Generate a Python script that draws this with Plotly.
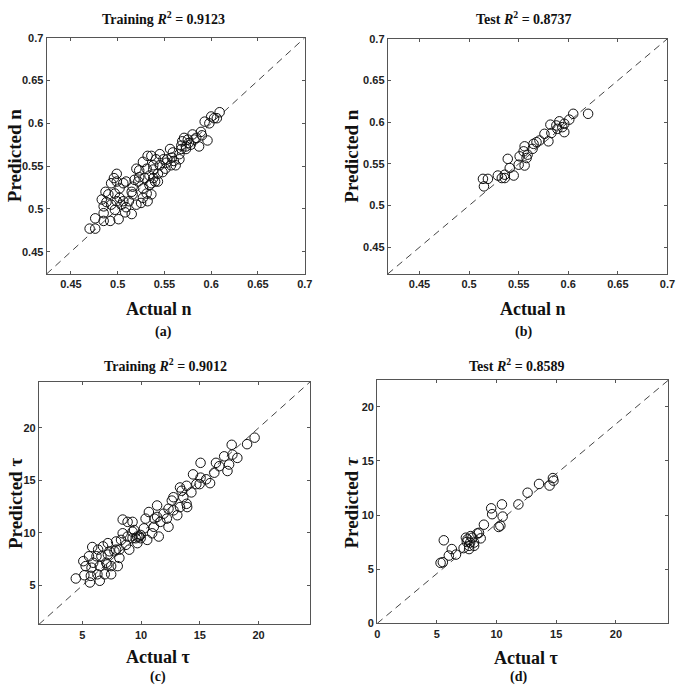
import plotly.graph_objects as go

W, H = 685, 693  # browser window and figure size

# ---------------- data ----------------
# (a) Training, flow index n
a_actual = [0.470, 0.476, 0.476, 0.485, 0.485, 0.492, 0.501, 0.483, 0.487, 0.493,
            0.497, 0.499, 0.497, 0.508, 0.504, 0.499, 0.502, 0.509, 0.512, 0.520,
            0.516, 0.516, 0.522, 0.527, 0.527, 0.531, 0.529, 0.523, 0.518, 0.520,
            0.532, 0.536, 0.541, 0.538, 0.534, 0.538, 0.540, 0.534, 0.548, 0.545,
            0.545, 0.549, 0.553, 0.551, 0.556, 0.559, 0.560, 0.557, 0.562, 0.566,
            0.568, 0.569, 0.573, 0.575, 0.578, 0.580, 0.584, 0.587, 0.589, 0.596,
            0.593, 0.598, 0.600, 0.603, 0.606, 0.609, 0.571, 0.566, 0.558, 0.573,
            0.490, 0.488, 0.496, 0.502, 0.506, 0.493, 0.485, 0.515, 0.525, 0.532,
            0.536, 0.531, 0.543, 0.552, 0.527, 0.523, 0.543, 0.509, 0.506, 0.515,
            0.582, 0.576, 0.590, 0.568, 0.538, 0.536, 0.499]
a_pred = [0.477, 0.477, 0.489, 0.486, 0.495, 0.486, 0.488, 0.511, 0.520, 0.530,
          0.518, 0.509, 0.499, 0.496, 0.505, 0.532, 0.524, 0.502, 0.509, 0.505,
          0.517, 0.526, 0.532, 0.513, 0.524, 0.547, 0.536, 0.537, 0.534, 0.547,
          0.562, 0.562, 0.558, 0.551, 0.539, 0.536, 0.532, 0.528, 0.543, 0.551,
          0.564, 0.558, 0.558, 0.547, 0.570, 0.566, 0.556, 0.551, 0.551, 0.564,
          0.570, 0.579, 0.573, 0.581, 0.575, 0.587, 0.583, 0.573, 0.590, 0.580,
          0.602, 0.600, 0.608, 0.606, 0.606, 0.613, 0.583, 0.558, 0.560, 0.570,
          0.517, 0.508, 0.536, 0.513, 0.509, 0.505, 0.503, 0.494, 0.507, 0.509,
          0.517, 0.518, 0.541, 0.554, 0.555, 0.545, 0.532, 0.532, 0.530, 0.520,
          0.581, 0.577, 0.586, 0.574, 0.546, 0.530, 0.541]

# (b) Test, flow index n
b_actual = [0.514, 0.519, 0.515, 0.529, 0.533, 0.536, 0.536, 0.539, 0.541, 0.545,
            0.551, 0.550, 0.556, 0.556, 0.555, 0.558, 0.564, 0.565, 0.568, 0.571,
            0.576, 0.580, 0.583, 0.582, 0.589, 0.591, 0.594, 0.596, 0.601, 0.605,
            0.620, 0.596, 0.588, 0.559]
b_pred = [0.532, 0.532, 0.523, 0.536, 0.533, 0.533, 0.537, 0.556, 0.545, 0.536,
          0.559, 0.549, 0.548, 0.571, 0.565, 0.557, 0.568, 0.574, 0.576, 0.578,
          0.586, 0.577, 0.587, 0.597, 0.592, 0.601, 0.594, 0.588, 0.603, 0.610,
          0.610, 0.598, 0.596, 0.561]

# (c) Training, tau
c_actual = [4.44, 5.17, 5.08, 5.64, 5.72, 5.78, 5.56, 5.84, 5.92, 6.48,
            6.48, 6.62, 6.76, 7.03, 7.12, 7.17, 7.45, 6.90, 7.45, 7.17,
            7.87, 7.73, 8.15, 8.43, 8.43, 8.85, 8.99, 8.71, 9.27, 9.40,
            9.54, 9.68, 9.27, 9.96, 10.24, 10.38, 10.66, 10.94, 11.08, 11.13,
            11.36, 11.50, 11.64, 11.91, 12.33, 12.33, 12.61, 12.75, 13.08, 13.31,
            13.45, 13.59, 13.87, 13.92, 14.28, 14.42, 14.70, 15.06, 15.06, 15.54,
            15.87, 16.23, 16.37, 16.65, 17.07, 17.35, 17.49, 17.71, 17.77, 18.19,
            19.02, 19.66, 6.28, 8.01, 8.15, 7.87, 9.82, 10.52, 9.96, 12.19,
            12.75, 14.98, 13.87, 5.28, 6.20, 6.34, 7.31, 9.68, 9.27, 8.29,
            11.36, 13.31, 8.85]
c_pred = [5.63, 5.94, 7.28, 5.25, 5.88, 6.66, 7.75, 8.63, 7.13, 5.41,
          6.81, 7.75, 8.69, 7.13, 6.97, 7.91, 6.81, 6.03, 6.03, 9.00,
          9.16, 8.22, 7.59, 11.25, 9.94, 9.63, 8.38, 8.84, 11.03, 10.25,
          9.47, 9.00, 9.47, 9.78, 10.41, 11.34, 11.97, 9.94, 10.56, 11.34,
          12.59, 9.63, 11.03, 11.81, 10.56, 12.28, 13.06, 12.13, 11.66, 12.44,
          14.00, 13.38, 14.47, 12.44, 13.84, 15.56, 14.63, 16.66, 15.25, 15.09,
          14.72, 15.72, 16.66, 16.34, 17.28, 15.88, 16.50, 18.38, 17.44, 17.13,
          18.44, 19.06, 6.03, 6.81, 8.38, 8.38, 9.63, 9.31, 9.47, 11.34,
          13.38, 14.63, 12.75, 6.81, 7.75, 8.38, 8.22, 9.63, 10.09, 9.31,
          11.50, 14.31, 11.03]

# (d) Test, tau
d_actual = [5.31, 5.50, 5.58, 6.00, 6.25, 6.60, 7.24, 7.43, 7.57, 7.70,
            7.79, 7.98, 8.12, 8.39, 8.53, 8.67, 8.94, 9.55, 9.63, 10.32,
            10.45, 10.51, 11.83, 12.60, 13.56, 14.44, 14.72, 14.77, 7.84, 7.70,
            7.51, 8.12, 10.18]
d_pred = [5.59, 5.65, 7.67, 6.26, 6.86, 6.35, 6.95, 7.91, 7.76, 7.16,
          7.46, 7.91, 7.16, 8.30, 8.36, 7.85, 9.11, 10.62, 10.08, 9.02,
          10.98, 9.86, 10.98, 12.06, 12.87, 12.72, 13.41, 13.17, 8.06, 6.86,
          7.52, 7.46, 8.90]

# axis ranges and ticks
range_a = [0.424, 0.7]
range_b = [0.418, 0.7]
range_cx = [1.3, 24.4]
range_cy = [1.25, 24.4]
range_dx = [0.0, 24.4]
range_dy = [0.0, 22.45]
ticks_n = [0.45, 0.5, 0.55, 0.6, 0.65, 0.7]
ticklabels_n = ["0.45", "0.5", "0.55", "0.6", "0.65", "0.7"]
ticks_c = [5, 10, 15, 20]
ticks_d = [0, 5, 10, 15, 20]

titles = ["Training <i>R</i><sup>2</sup> = 0.9123", "Test <i>R</i><sup>2</sup> = 0.8737",
          "Training <i>R</i><sup>2</sup> = 0.9012", "Test <i>R</i><sup>2</sup> = 0.8589"]
xtitles = ["Actual n", "Actual n", "Actual τ", "Actual τ"]
ytitles = ["Predicted n", "Predicted n", "Predicted τ", "Predicted <i>τ</i>"]
labels = ["(a)", "(b)", "(c)", "(d)"]

# ---------------- figure ----------------
SERIF = "Liberation Serif, Times New Roman, serif"
SANS = "Liberation Sans, Arial, sans-serif"


def px_x(v):
    return v / W


def px_y(v):
    return 1 - v / H


fig = go.Figure()

panels = [
    dict(x=a_actual, y=a_pred, rx=range_a, ry=range_a, tv=ticks_n, tt=ticklabels_n,
         dom_x=(44.3, 306.7), dom_y=(32.3, 272.7)),
    dict(x=b_actual, y=b_pred, rx=range_b, ry=range_b, tv=ticks_n, tt=ticklabels_n,
         dom_x=(391, 675.3), dom_y=(33.3, 272.7)),
    dict(x=c_actual, y=c_pred, rx=range_cx, ry=range_cy, tv=ticks_c, tt=[str(t) for t in ticks_c],
         dom_x=(36.5, 312.3), dom_y=(382.3, 629.3)),
    dict(x=d_actual, y=d_pred, rx=range_dx, ry=range_dy, tv=ticks_d, tt=[str(t) for t in ticks_d],
         dom_x=(380.3, 676.3), dom_y=(380.7, 628.3)),
]

axis_common = dict(showline=True, linecolor="#555", linewidth=1, mirror="allticks",
                   ticks="inside", ticklen=3, tickcolor="#555", showgrid=False,
                   zeroline=False, ticklabeloverflow="allow",
                   tickfont=dict(family=SANS, size=11, color="#222"))

for i, p in enumerate(panels):
    k = "" if i == 0 else str(i + 1)
    xa, ya = "x" + k, "y" + k
    # 1:1 reference line, corner to corner of the axes
    fig.add_trace(go.Scatter(x=[p["rx"][0], p["rx"][1]], y=[p["ry"][0], p["ry"][1]],
                             mode="lines", line=dict(color="#444", width=1, dash="7px,5px"),
                             xaxis=xa, yaxis=ya, showlegend=False, hoverinfo="skip"))
    fig.add_trace(go.Scatter(x=p["x"], y=p["y"], mode="markers",
                             marker=dict(symbol="circle-open", size=9.5, color="#111",
                                         line=dict(width=1, color="#111")),
                             xaxis=xa, yaxis=ya, showlegend=False))
    bold_tt = ["<b>" + t + "</b>" for t in p["tt"]]
    fig.layout["xaxis" + k] = dict(axis_common, domain=[px_x(p["dom_x"][0]), px_x(p["dom_x"][1])],
                                   range=p["rx"], tickvals=p["tv"], ticktext=bold_tt, anchor=ya)
    fig.layout["yaxis" + k] = dict(axis_common, domain=[px_y(p["dom_y"][1]), px_y(p["dom_y"][0])],
                                   range=p["ry"], tickvals=p["tv"], ticktext=bold_tt, anchor=xa)

# text positions (pixels in the window)
title_pos = [(163, 12), (529, 12), (165, 365), (522, 365)]
xtitle_pos = [(159, 308), (539, 308), (158, 662), (532, 663)]
ytitle_pos = [(12, 152), (354, 153), (12, 506), (354, 505)]
label_pos = [(163, 332), (529, 332), (158, 683), (524, 683)]

ann = []
for i in range(4):
    tx, ty = title_pos[i]
    ann.append(dict(text="<b>" + titles[i] + "</b>", x=px_x(tx), y=px_y(ty), xref="paper", yref="paper",
                    xanchor="center", yanchor="middle", showarrow=False,
                    font=dict(family=SERIF, size=14, color="#111")))
    tx, ty = xtitle_pos[i]
    ann.append(dict(text="<b>" + xtitles[i] + "</b>", x=px_x(tx), y=px_y(ty), xref="paper", yref="paper",
                    xanchor="center", yanchor="middle", showarrow=False,
                    font=dict(family=SERIF, size=18, color="#111")))
    tx, ty = ytitle_pos[i]
    ann.append(dict(text="<b>" + ytitles[i] + "</b>", x=px_x(tx), y=px_y(ty), xref="paper", yref="paper",
                    xanchor="center", yanchor="middle", showarrow=False, textangle=-90,
                    font=dict(family=SERIF, size=19, color="#111")))
    tx, ty = label_pos[i]
    ann.append(dict(text="<b>" + labels[i] + "</b>", x=px_x(tx), y=px_y(ty), xref="paper", yref="paper",
                    xanchor="center", yanchor="middle", showarrow=False,
                    font=dict(family=SERIF, size=14, color="#111")))

fig.update_layout(width=W, height=H, margin=dict(l=0, r=0, t=0, b=0),
                  paper_bgcolor="white", plot_bgcolor="white", annotations=ann,
                  showlegend=False, hovermode=False)

# remove the default page margin so the figure fills the window exactly; hide the modebar
fig.write_html("out.html", config={"displayModeBar": False},
               post_script="document.body.style.margin='0';")
